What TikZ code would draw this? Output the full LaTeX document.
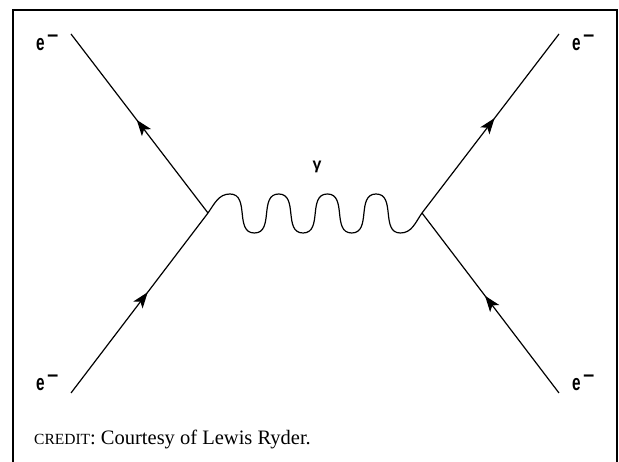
\documentclass[tikz,border=0pt]{standalone}
\usepackage{fontspec}
\setmainfont{Liberation Serif}
\newfontfamily\condsans[FakeStretch=0.68]{Liberation Sans}
\newfontfamily\plainsans{Liberation Sans}
\usetikzlibrary{arrows.meta,decorations.markings}
\newcommand\elabel{{\condsans\bfseries\fontsize{22.5}{22.5}\selectfont e}\hspace{2.5pt}\raisebox{8.5pt}{\plainsans\bfseries\fontsize{19.5}{19.5}\selectfont −}}
\begin{document}
\begin{tikzpicture}[x=1pt,y=1pt,
  fermion/.style={line width=1.2pt},
  arrowmark/.style={postaction={decorate},decoration={markings,mark=at position #1 with {\arrow{Stealth[length=16pt,width=11.5pt,inset=4pt]}}}},
  lab/.style={inner sep=0pt,anchor=base west},
  frame/.style={line width=2.4pt},
  photon/.style={line width=1.2pt}]
\useasboundingbox (0,0) rectangle (619,462);
% frame
\coordinate (fbl) at (13,-5);
\coordinate (ftl) at (13,452);
\coordinate (ftr) at (617,452);
\coordinate (fbr) at (617,-5);
\draw[frame] (fbl) -- (ftl) -- (ftr) -- (fbr);
% end points and vertices
\coordinate (tl) at (71,428);
\coordinate (tr) at (559,428);
\coordinate (bl) at (71,69);
\coordinate (br) at (559,69);
\coordinate (v1) at (208,249);
\coordinate (v2) at (422,249);
% fermion lines
\draw[fermion,arrowmark=0.56] (bl) -- (v1);
\draw[fermion,arrowmark=0.52] (v1) -- (tl);
\draw[fermion,arrowmark=0.53] (v2) -- (tr);
\draw[fermion,arrowmark=0.54] (br) -- (v2);
% photon
\coordinate (p1) at (230,268);
\coordinate (t1) at (254.4,229);
\coordinate (p2) at (278.7,268);
\coordinate (t2) at (303,229);
\coordinate (p3) at (327.4,268);
\coordinate (t3) at (351.7,229);
\coordinate (p4) at (376.1,268);
\coordinate (t4) at (400.4,229);
\draw[photon,looseness=1.12] (v1) to[out=55,in=180,looseness=1] (p1) to[out=0,in=180] (t1)
  to[out=0,in=180] (p2) to[out=0,in=180] (t2)
  to[out=0,in=180] (p3) to[out=0,in=180] (t3)
  to[out=0,in=180] (p4) to[out=0,in=180] (t4)
  to[out=0,in=235,looseness=1] (v2);
% labels
\node[lab] (etl) at (36,411) {\elabel};
\node[lab] (etr) at (572,411) {\elabel};
\node[lab] (ebl) at (36,71) {\elabel};
\node[lab] (ebr) at (572,71) {\elabel};
\node[inner sep=0pt] (gamma) at (317,295) {\plainsans\bfseries\fontsize{16}{16}\selectfont γ};
\node[lab] (credit) at (34,17) {\fontsize{20.5}{20.5}\selectfont{\fontsize{15.5}{15.5}\selectfont CREDIT}: Courtesy of Lewis Ryder.};
\end{tikzpicture}
\end{document}
